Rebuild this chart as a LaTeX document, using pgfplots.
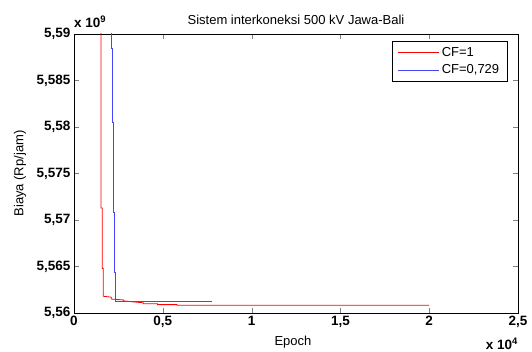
\documentclass[border=0pt]{standalone}
\usepackage{fontspec}
\setmainfont{Liberation Sans}
\usepackage{pgfplots}
\pgfplotsset{compat=1.18}
\definecolor{myblue}{RGB}{70,70,255}
\begin{document}
\begin{tikzpicture}
\path[use as bounding box] (-74pt,-39pt) rectangle (458pt,313pt);
\begin{axis}[
  name=ax, at={(0,0)}, anchor=south west,
  scale only axis, width=444pt, height=279pt,
  xmin=0, xmax=2.5, ymin=5.56, ymax=5.59,
  xtick={0,0.5,1,1.5,2,2.5},
  ytick={5.56,5.565,5.57,5.575,5.58,5.585,5.59},
  scaled ticks=false,
  tick align=inside, major tick length=5pt,
  ticklabel style={font=\fontsize{13.5}{15}\selectfont\bfseries},
  /pgf/number format/.cd, use comma, fixed, precision=3, assume math mode=true,
  /pgfplots/.cd,
  legend style={at={(0.975,0.975)}, anchor=north east,
    font=\fontsize{13}{15}\selectfont, inner xsep=5.5pt, inner ysep=4pt,
    row sep=3pt},
  legend cell align=left,
  legend image code/.code={\draw[#1] (0pt,0pt) -- (41pt,0pt);},
]
\addplot[color=red, line width=0.8pt] coordinates {
(0.152,5.600) (0.152,5.5713) (0.159,5.5713) (0.159,5.5648) (0.165,5.5648)
(0.165,5.5618) (0.21,5.5617) (0.21,5.5615) (0.28,5.5614) (0.28,5.5613)
(0.33,5.5612) (0.39,5.5611) (0.39,5.5610) (0.47,5.5610) (0.47,5.5609)
(0.58,5.5609) (0.58,5.56083) (2.0,5.56083)
};
\addlegendentry{CF=1}
\addplot[color=myblue, line width=0.8pt] coordinates {
(0.212,5.600) (0.212,5.5885) (0.218,5.5885) (0.218,5.5805) (0.223,5.5805)
(0.223,5.5708) (0.229,5.5708) (0.229,5.5644) (0.235,5.5644) (0.235,5.5613)
(0.779,5.5613)
};
\addlegendentry{CF=0,729}
\end{axis}
\node[font=\fontsize{13}{15}\selectfont] at (222pt,293pt) {Sistem interkoneksi 500 kV Jawa-Bali};
\node[font=\fontsize{13}{15}\selectfont, rotate=90] at (-54pt,139.5pt) {Biaya (Rp/jam)};
\node[font=\fontsize{13}{15}\selectfont] at (219pt,-29pt) {Epoch};
\node[font=\fontsize{13.5}{15}\selectfont\bfseries, anchor=base west, inner sep=0pt] at (0pt,285pt) {x 10\textsuperscript{9}};
\node[font=\fontsize{13.5}{15}\selectfont\bfseries, anchor=base east, inner sep=0pt] at (444pt,-37pt) {x 10\textsuperscript{4}};
\end{tikzpicture}
\end{document}
